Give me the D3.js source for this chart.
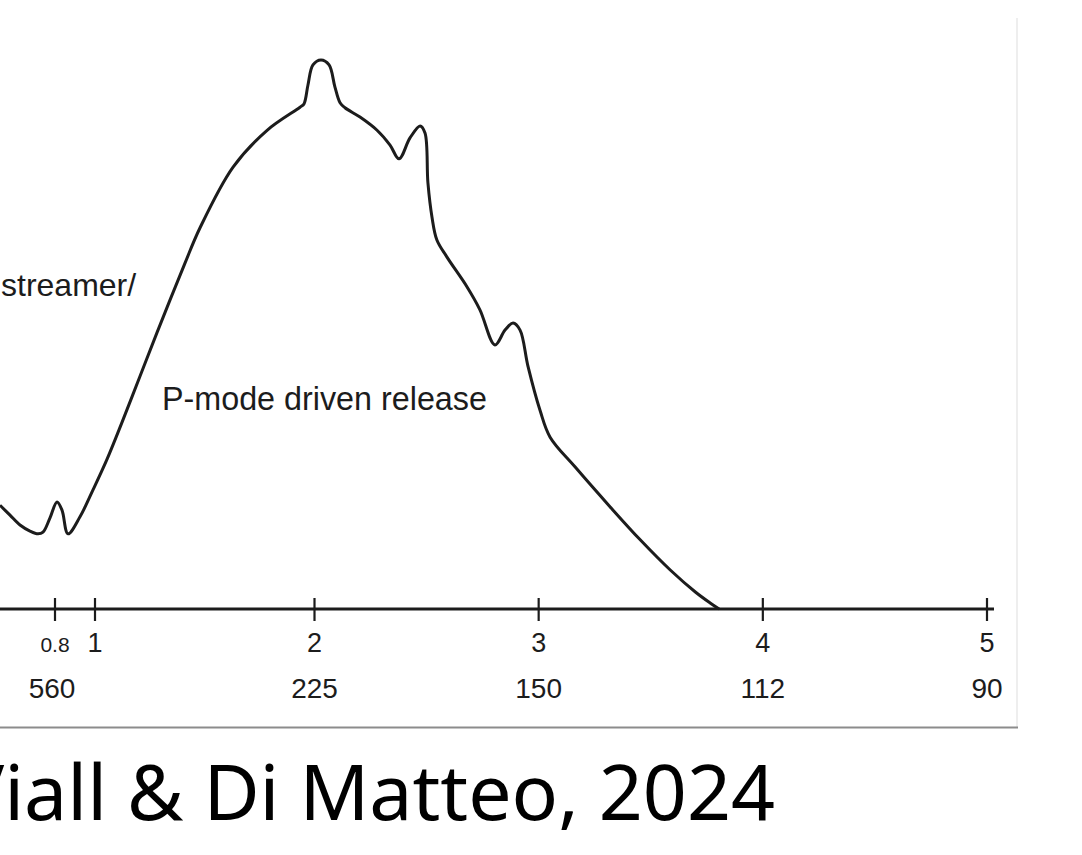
<!DOCTYPE html>
<html>
<head>
<meta charset="utf-8">
<script src="https://cdn.jsdelivr.net/npm/d3@7"></script>
<style>
  html, body { margin: 0; padding: 0; background: #ffffff; }
  svg { display: block; }
</style>
</head>
<body>
<svg id="chart" width="1082" height="855"></svg>
<script>
// ---- data ----
// upper tick row (frequency-like units)
const xTicks = [0.8, 1, 2, 3, 4, 5];
const xTickLabels = ["0.8", "1", "2", "3", "4", "5"];
// lower tick row (period-like units)
const periodTicks = [0.8, 2, 3, 4, 5];
const periodLabels = ["560", "225", "150", "112", "90"];
// curve (x in axis units, y in relative units, 0 = axis)
const curveX = [0.525, 0.575, 0.625, 0.675, 0.715, 0.74, 0.775, 0.81, 0.835, 0.865,
  0.925, 0.99, 1.055, 1.123, 1.205, 1.282, 1.410, 1.478, 1.629, 1.784, 1.934,
  1.952, 1.970, 1.993, 2.029, 2.065, 2.091, 2.114, 2.136, 2.203, 2.279, 2.337,
  2.377, 2.426, 2.471, 2.493, 2.506, 2.524, 2.546, 2.591, 2.680, 2.738,
  2.805, 2.850, 2.886, 2.917, 2.953, 3.006, 3.051, 3.162, 3.319, 3.453,
  3.587, 3.699, 3.765, 3.805];
const curveY = [18.9, 17.1, 15.3, 14.2, 13.7, 14.0, 16.6, 19.5, 18.0, 13.7,
  16.8, 21.7, 27.3, 34.0, 42.4, 50.3, 63.0, 69.4, 80.5, 87.2, 91.4,
  92.0, 95.4, 99.1, 100, 99.1, 95.1, 92.2, 91.3, 89.6, 87.2, 84.5,
  82.0, 85.8, 88.0, 86.7, 77.6, 71.4, 67.2, 64.1, 58.7, 54.5,
  48.1, 50.8, 52.1, 50.8, 44.1, 36.2, 31.3, 25.9, 18.6, 12.6,
  7.1, 3.1, 1.1, 0];
const annotations = ["streamer/", "P-mode driven release"];
const caption = "Viall & Di Matteo, 2024";

// ---- layout ----
const svg = d3.select("#chart");
const axisY = 609;
const x = d3.scaleLinear().domain([0.8, 1, 2, 5]).range([55, 95, 314.5, 987]);
const y = d3.scaleLinear().domain([0, 100]).range([axisY, 60]);
const ink = "#1c1c1c";
const sans = "'Liberation Sans', Arial, Helvetica, sans-serif";

// frame of the screenshot
svg.append("line").attr("x1", 1017).attr("x2", 1017).attr("y1", 18).attr("y2", 727)
  .attr("stroke", "#e8e8e8").attr("stroke-width", 1.5);
svg.append("line").attr("x1", 0).attr("x2", 1018).attr("y1", 727.5).attr("y2", 727.5)
  .attr("stroke", "#8c8c8c").attr("stroke-width", 2);

// curve
const pts = curveX.map((v, i) => [v, curveY[i]]);
svg.append("path")
  .datum(pts)
  .attr("fill", "none")
  .attr("stroke", ink)
  .attr("stroke-width", 3)
  .attr("stroke-linejoin", "round")
  .attr("d", d3.line().x(d => x(d[0])).y(d => y(d[1])).curve(d3.curveCatmullRom.alpha(0.5)));

// axis line
svg.append("line").attr("x1", 0).attr("x2", x(5) + 7).attr("y1", axisY).attr("y2", axisY)
  .attr("stroke", ink).attr("stroke-width", 3);

// ticks
svg.selectAll("line.tick").data(xTicks).enter().append("line")
  .attr("class", "tick")
  .attr("x1", d => x(d)).attr("x2", d => x(d))
  .attr("y1", axisY - 11).attr("y2", axisY + 12)
  .attr("stroke", ink).attr("stroke-width", 2.2);

// upper tick labels
svg.selectAll("text.tl").data(xTicks).enter().append("text")
  .attr("class", "tl")
  .attr("x", d => x(d))
  .attr("y", 652)
  .attr("text-anchor", "middle")
  .attr("font-family", sans)
  .attr("font-size", (d, i) => xTickLabels[i] === "0.8" ? 21 : 27)
  .attr("fill", ink)
  .text((d, i) => xTickLabels[i]);

// lower tick labels
svg.selectAll("text.pl").data(periodTicks).enter().append("text")
  .attr("class", "pl")
  .attr("x", d => x(d) - (d === 0.8 ? 3 : 0))
  .attr("y", 698)
  .attr("text-anchor", "middle")
  .attr("font-family", sans)
  .attr("font-size", 28)
  .attr("fill", ink)
  .text((d, i) => periodLabels[i]);

// annotations
svg.append("text").attr("x", 1).attr("y", 296)
  .attr("font-family", sans).attr("font-size", 32).attr("fill", ink)
  .text(annotations[0]);
svg.append("text").attr("x", 162).attr("y", 410)
  .attr("font-family", sans).attr("font-size", 32.3).attr("fill", ink)
  .text(annotations[1]);

// caption (partially cut at the left edge, as in the source screenshot)
svg.append("text").attr("x", 775).attr("y", 820)
  .attr("text-anchor", "end")
  .attr("font-family", "'Noto Sans', 'Open Sans', sans-serif")
  .attr("font-size", 77)
  .attr("fill", "#000")
  .text(caption);
</script>
</body>
</html>
